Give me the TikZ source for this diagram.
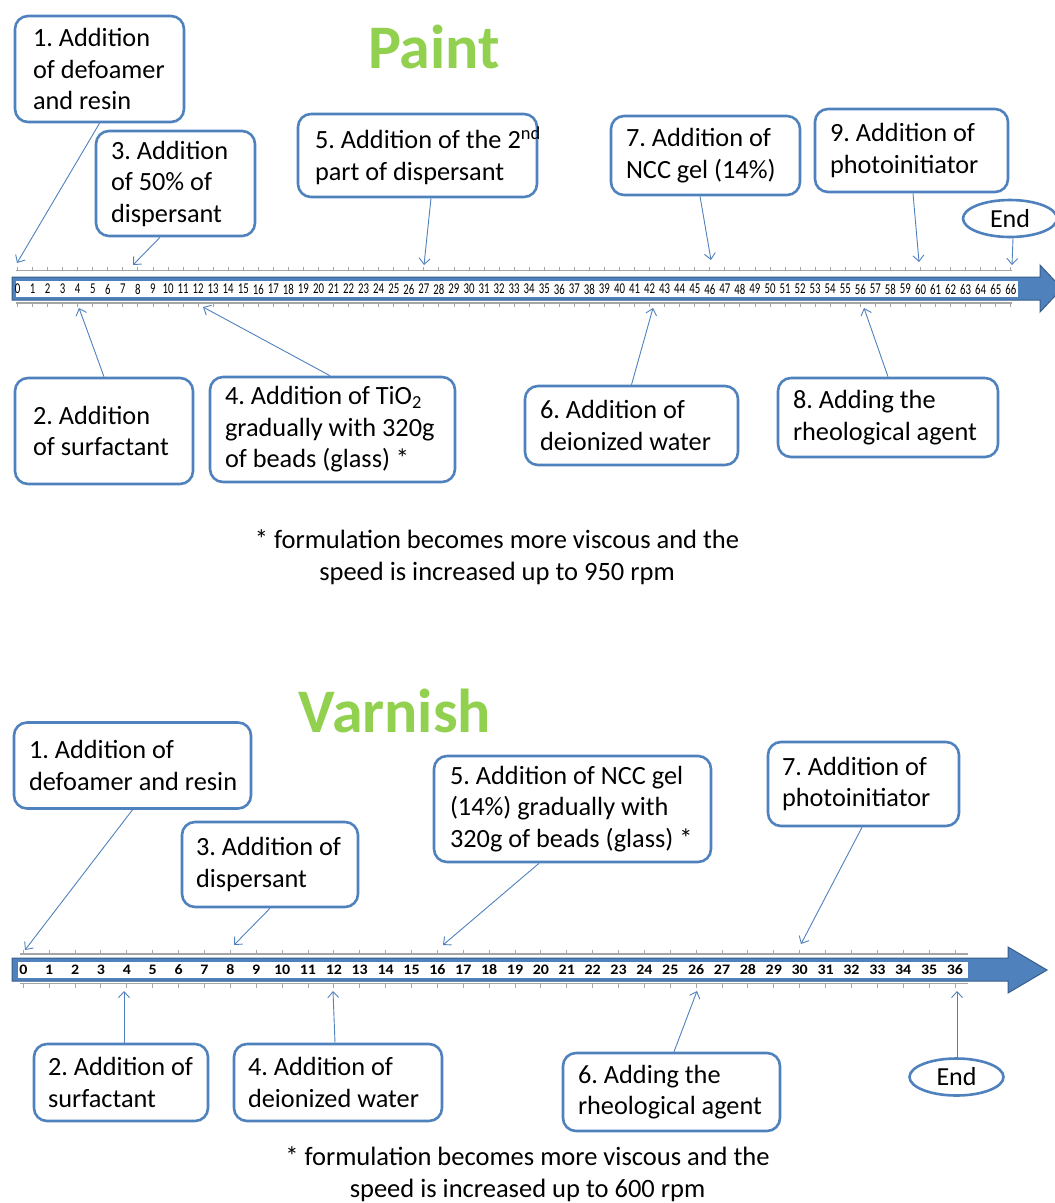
\documentclass[tikz,border=0pt]{standalone}
\usepackage{fontspec}
\setmainfont{Carlito}
\frenchspacing
\usetikzlibrary{arrows.meta,shapes.geometric,calc}
\definecolor{bblue}{RGB}{79,129,189}
\definecolor{dblue}{RGB}{56,93,138}
\definecolor{tgreen}{RGB}{146,208,80}
\definecolor{tickgray}{RGB}{165,165,165}
\begin{document}
\begin{tikzpicture}[x=1pt,y=-1pt,
  box/.style={draw=bblue, line width=2.6pt, rounded corners=13pt, fill=white,
    align=flush left, inner xsep=0pt, inner ysep=0pt,
    font=\fontsize{26.3}{31.5}\selectfont\frenchspacing},
  endbox/.style={ellipse, draw=bblue, line width=2.6pt, fill=white, inner sep=0pt,
    minimum width=94pt, minimum height=37pt, font=\fontsize{26}{30}\selectfont},
  title/.style={text=tgreen, font=\fontsize{62}{70}\selectfont\bfseries},
  note/.style={align=center, font=\fontsize{26.5}{32}\selectfont\frenchspacing},
  pointer/.style={draw=bblue, line width=0.9pt, -{Straight Barb[length=6pt,width=11pt]}},
  tickline/.style={draw=tickgray, line width=1.2pt},
  pnum/.style={inner sep=0pt, font=\fontsize{15}{15}\selectfont},
  vnum/.style={inner sep=0pt, font=\fontsize{14.5}{14.5}\selectfont\bfseries}
]
\useasboundingbox (0,0) rectangle (1055,1203);

% ---------------- PAINT ----------------
\node[title] (tpaint) at (434,47) {Paint};

% timeline arrow
\filldraw[fill=bblue, draw=dblue, line width=1pt]
  (12,277) -- (1040,277) -- (1040,265) -- (1062,288.5) -- (1040,312) -- (1040,300) -- (12,300) -- cycle;
\fill[white] (16,281) rectangle (1018,297);
\draw[tickline] (16,270.5) -- (1012,270.5);
\draw[tickline] (16,303) -- (1012,303);
\foreach \i in {0,...,66}{
  \pgfmathsetmacro\xx{17.5+15.05*\i}
  \draw[tickline, line width=0.9pt] (\xx,266.5) -- (\xx,270.5);
  \draw[tickline, line width=0.9pt] (\xx,303) -- (\xx,307);
  \node[pnum] (pn\i) at (\xx,289) {\scalebox{0.72}[1]{\i}};
}

% boxes
\node[box, text width=133pt, minimum width=169pt, minimum height=106pt] (p1) at (99.5,69)
  {1. Addition\\of defoamer\\and resin};
\node[box, text width=129pt, minimum width=159pt, minimum height=105pt] (p3) at (175.5,183.5)
  {3. Addition\\of 50\% of\\dispersant};
\node[box, text width=205pt, minimum width=239pt, minimum height=83pt] (p5) at (417.5,155.5)
  {\mbox{5. Addition of the 2\textsuperscript{nd}}\\part of dispersant};
\node[box, text width=159pt, minimum width=189pt, minimum height=79pt] (p7) at (705.5,155.5)
  {7. Addition of\\NCC gel (14\%)};
\node[box, text width=163pt, minimum width=193pt, minimum height=83pt] (p9) at (911.5,150.5)
  {9. Addition of\\photoinitiator};
\node[endbox] (pend) at (1010,218.5) {End};

\node[box, text width=142pt, minimum width=178pt, minimum height=106pt] (p2) at (104,431)
  {2. Addition\\of surfactant};
\node[box, text width=215pt, minimum width=245pt, minimum height=105pt] (p4) at (332.5,429.5)
  {\mbox{4. Addition of TiO\textsubscript{2}}\\\mbox{gradually with 320g}\\of beads (glass) *};
\node[box, text width=183pt, minimum width=213pt, minimum height=79pt] (p6) at (631.5,425.5)
  {6. Addition of\\deionized water};
\node[box, text width=190pt, minimum width=220pt, minimum height=79pt] (p8) at (888,417.5)
  {8. Adding the\\\mbox{rheological agent}};

% pointer targets
\coordinate (tp1) at (17,263);
\coordinate (tp3) at (133,265);
\coordinate (tp5) at (424,265);
\coordinate (tp7) at (711,260);
\coordinate (tp9) at (919,262);
\coordinate (tpE) at (1012,265);
\coordinate (tp2) at (79,308);
\coordinate (tp4) at (203,307);
\coordinate (tp6) at (653,308);
\coordinate (tp8) at (864,308);

\draw[pointer] (p1.south) -- (tp1);
\draw[pointer] ([xshift=-15.5pt]p3.south) -- (tp3);
\draw[pointer] ([xshift=13.5pt]p5.south) -- (tp5);
\draw[pointer] ([xshift=-5.5pt]p7.south) -- (tp7);
\draw[pointer] ([xshift=1.5pt]p9.south) -- (tp9);
\draw[pointer] ([xshift=3pt]pend.south) -- (tpE);
\draw[pointer] (p2.north) -- (tp2);
\draw[pointer] ([xshift=-2.5pt]p4.north) -- (tp4);
\draw[pointer] (p6.north) -- (tp6);
\draw[pointer] (p8.north) -- (tp8);

\node[note] (pnote) at (497,557)
  {* formulation becomes more viscous and the\\speed is increased up to 950 rpm};

% ---------------- VARNISH ----------------
\node[title] (tvarnish) at (395,711) {Varnish};

\filldraw[fill=bblue, draw=dblue, line width=1pt]
  (12,958) -- (1008,958) -- (1008,947) -- (1047,970) -- (1008,993) -- (1008,981) -- (12,981) -- cycle;
\fill[white] (18,962) rectangle (968,978);
\draw[tickline] (20,954) -- (968,954);
\draw[tickline] (20,983.5) -- (968,983.5);
\foreach \i in {0,...,36}{
  \pgfmathsetmacro\xx{23.3+25.88*\i}
  \draw[tickline, line width=0.9pt] (\xx,950) -- (\xx,954);
  \draw[tickline, line width=0.9pt] (\xx,983.5) -- (\xx,988);
  \node[vnum] (vn\i) at (\xx,970) {\scalebox{1.1}[1]{\i}};
}

\node[box, text width=207pt, minimum width=237pt, minimum height=86pt] (v1) at (132.5,765.5)
  {1. Addition of\\\mbox{defoamer and resin}};
\node[box, text width=148pt, minimum width=176pt, minimum height=85pt] (v3) at (270,864.5)
  {3. Addition of\\dispersant};
\node[box, text width=245pt, minimum width=277pt, minimum height=106pt] (v5) at (572.5,809)
  {\mbox{5. Addition of NCC gel}\\\mbox{(14\%) gradually with}\\\mbox{320g of beads (glass) *}};
\node[box, text width=163pt, minimum width=191pt, minimum height=84pt] (v7) at (863.5,784)
  {7. Addition of\\photoinitiator};
\node[box, text width=146pt, minimum width=174pt, minimum height=77pt] (v2) at (121,1082.5)
  {\mbox{2. Addition of}\\surfactant};
\node[box, text width=180pt, minimum width=208pt, minimum height=77pt] (v4) at (338,1082.5)
  {4. Addition of\\deionized water};
\node[box, text width=187pt, minimum width=217pt, minimum height=78pt] (v6) at (671.5,1092)
  {6. Adding the\\\mbox{rheological agent}};
\node[endbox] (vend) at (956.5,1077) {End};

\coordinate (tv1) at (25,950);
\coordinate (tv3) at (234,945);
\coordinate (tv5) at (443,945);
\coordinate (tv7) at (801,944);
\coordinate (tv2) at (124,991);
\coordinate (tv4) at (333,991);
\coordinate (tv6) at (697,991);
\coordinate (tvE) at (957,991);

\draw[pointer] (v1.south) -- (tv1);
\draw[pointer] (v3.south) -- (tv3);
\draw[pointer] ([xshift=-33.5pt]v5.south) -- (tv5);
\draw[pointer] ([xshift=-1.5pt]v7.south) -- (tv7);
\draw[pointer] ([xshift=3pt]v2.north) -- (tv2);
\draw[pointer] ([xshift=-3pt]v4.north) -- (tv4);
\draw[pointer] ([xshift=2.5pt]v6.north) -- (tv6);
\draw[pointer] ([xshift=0.5pt]vend.north) -- (tvE);

\node[note] (vnote) at (527.5,1174)
  {* formulation becomes more viscous and the\\speed is increased up to 600 rpm};
\end{tikzpicture}
\end{document}
